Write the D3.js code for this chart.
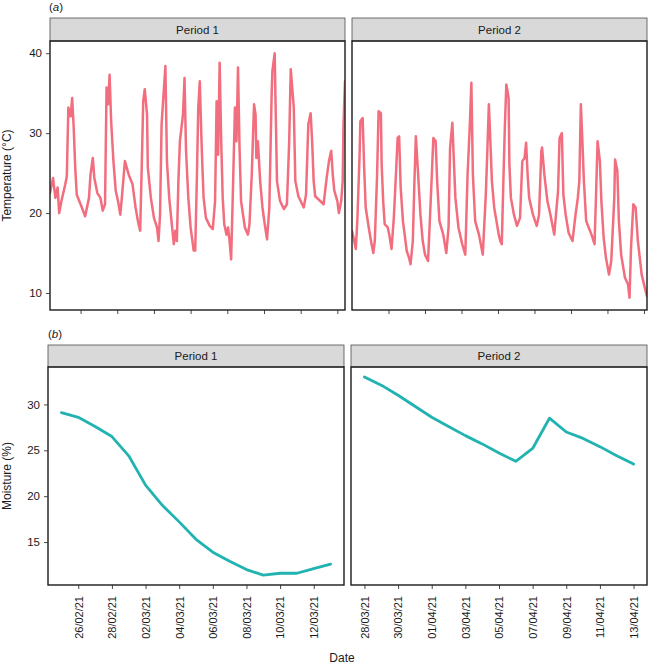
<!DOCTYPE html>
<html>
<head>
<meta charset="utf-8">
<script src="https://cdn.jsdelivr.net/npm/d3@7"></script>
<style>
  body { margin: 0; background: #fff; }
  text { font-family: "Liberation Sans", Arial, sans-serif; }
</style>
</head>
<body>
<div id="chart"></div>
<script>
// ---- data ----
// temperature, period 1: hours after 24/02/21 08:00 and °C
const p1TempStart = new Date(2021, 1, 24, 8);
const p1TempHours = [0,4,7,10,12,15,20,22,24,27,29,31,33,35,40,46,51,53,56,58,62,66,69,72,74,76,78,80,83,86,
  89,92,94,98,103,108,112,115,118,120,122,124,127,128,132,136,140,142,144,146,151,153,156,159,162,164,166,168,170,174,
  176,178,181,184,188,190,192,194,196,198,199,201,204,209,213,216,218,220,222,224,226,228,231,233,235,237,239,242,244,246,
  248,250,255,259,261,264,267,269,270,272,275,278,281,284,287,290,291,294,295,297,301,306,310,313,315,318,319,321,325,332,
  335,338,341,343,345,347,358,362,365,368,370,372,376,378,381,383,384,386];
const p1Temp = [22.5,24.4,21.9,23.2,20.0,21.5,23.6,24.6,33.2,32.1,34.4,30.7,25.7,22.3,21.1,19.6,21.9,24.8,26.9,24.4,
  22.5,21.9,20.3,21.1,35.7,33.6,37.3,31.5,26.5,22.8,21.5,19.8,21.9,26.5,24.8,23.6,20.7,19.0,17.8,25.7,
  34.0,35.5,32.3,25.7,21.9,19.4,18.2,16.5,19.8,31.1,38.4,26.5,21.9,19.0,16.1,17.8,16.5,24.0,29.0,32.3,
  36.9,27.8,21.9,18.2,15.3,15.3,23.6,33.2,36.5,29.8,26.9,21.9,19.4,18.4,18.0,21.5,34.0,27.3,38.8,29.0,
  21.9,18.6,17.3,18.2,16.5,14.2,21.5,33.2,29.0,38.2,28.2,21.5,18.2,17.3,18.6,24.8,33.6,32.3,26.9,29.0,
  24.0,20.7,18.6,16.7,20.7,34.8,37.8,40.0,34.4,24.0,21.5,20.5,21.1,29.0,38.0,34.4,33.2,24.0,22.1,20.7,
  22.3,31.1,32.5,29.0,24.0,22.1,21.1,24.4,26.5,27.8,24.8,22.8,21.5,20.0,21.5,24.0,31.1,36.5];

// temperature, period 2: hours after 26/03/21 00:00 and °C
const p2TempStart = new Date(2021, 2, 26, 0);
const p2TempHours = [0,3,5,7,10,11,14,16,18,22,25,28,30,33,35,38,39,41,43,47,49,52,55,58,60,62,64,67,72,75,
  77,80,82,84,87,90,93,96,100,102,105,107,110,112,115,120,124,127,129,132,134,136,140,145,149,152,155,157,159,162,
  167,172,176,178,180,182,184,187,193,195,197,199,201,203,206,207,209,213,217,221,224,227,229,231,233,238,243,246,249,250,
  253,257,261,266,271,273,276,278,281,285,290,294,297,299,301,303,305,308,315,319,321,323,326,328,331,334,338,341,345,346,
  349,351,354,359,363,365,367,370,373,376,381,385,388];
const p2Temp = [17.75,16.5,15.5,19.0,27.3,31.5,31.9,25.7,20.7,18.2,16.5,15.0,16.5,24.8,32.75,32.5,26.1,21.5,18.6,18.2,
  17.3,15.5,19.4,25.25,29.4,29.6,23.2,19.0,15.25,14.4,13.6,16.5,23.6,29.6,24.8,19.8,16.5,14.8,14.0,18.2,
  24.8,29.4,29.0,24.0,19.0,17.3,15.0,18.2,28.2,31.3,26.5,21.9,18.2,16.1,14.8,24.8,31.1,36.3,24.8,19.0,
  17.3,14.8,22.3,27.75,33.6,29.0,24.0,20.7,17.3,16.5,16.1,23.6,30.7,36.1,34.4,26.1,21.9,19.8,18.4,19.4,
  26.5,26.9,28.8,24.8,21.9,19.8,18.4,19.8,27.75,28.2,24.8,21.5,19.8,17.3,22.75,29.4,30.0,22.3,19.8,17.5,
  16.5,19.8,21.9,24.0,33.6,29.0,24.0,19.0,17.3,16.1,22.3,29.0,26.5,21.5,16.9,14.4,12.3,14.0,21.9,26.7,
  25.25,19.0,14.8,11.9,11.1,9.4,15.7,21.1,20.7,16.5,12.3,10.7,9.6];

// moisture, daily
const p1MoistDates = ["2021-02-25","2021-02-26","2021-02-27","2021-02-28","2021-03-01","2021-03-02","2021-03-03",
  "2021-03-04","2021-03-05","2021-03-06","2021-03-07","2021-03-08","2021-03-09","2021-03-10","2021-03-11","2021-03-12","2021-03-13"];
const p1Moist = [29.1,28.6,27.6,26.5,24.4,21.2,19.0,17.2,15.3,13.9,12.9,12.0,11.4,11.6,11.6,12.1,12.6];
const p2MoistDates = ["2021-03-28","2021-03-29","2021-03-30","2021-03-31","2021-04-01","2021-04-02","2021-04-03",
  "2021-04-04","2021-04-05","2021-04-06","2021-04-07","2021-04-08","2021-04-09","2021-04-10","2021-04-11","2021-04-12","2021-04-13"];
const p2Moist = [33.0,32.1,31.0,29.8,28.6,27.6,26.6,25.7,24.7,23.8,25.2,28.5,27.0,26.3,25.4,24.4,23.5];

// x tick dates
const p1Ticks = ["2021-02-26","2021-02-28","2021-03-02","2021-03-04","2021-03-06","2021-03-08","2021-03-10","2021-03-12"];
const p2Ticks = ["2021-03-28","2021-03-30","2021-04-01","2021-04-03","2021-04-05","2021-04-07","2021-04-09","2021-04-11","2021-04-13"];
const tempTicks = [10, 20, 30, 40];
const moistTicks = [15, 20, 25, 30];
const panelNames = ["Period 1", "Period 2"];

// ---- setup ----
const width = 651;
const height = 665;
const tempColor = "#f26e7e";
const moistColor = "#20b3b1";
const svg = d3.select("#chart")
    .append("svg")
    .attr("width", width)
    .attr("height", height);

const parseDay = d3.timeParse("%Y-%m-%d");
const fmt = d3.timeFormat("%d/%m/%y");

function hoursToDates(start, hours){
    return hours.map(h => d3.timeHour.offset(start, h));
}

// pad a [min,max] extent like ggplot does (5% each side)
function expand(ext, f){
    let d = (ext[1] - ext[0]) * f;
    return [+ext[0] - d, +ext[1] + d];
}

const tempSeries = [
    { t: hoursToDates(p1TempStart, p1TempHours), v: p1Temp, ticks: p1Ticks.map(parseDay) },
    { t: hoursToDates(p2TempStart, p2TempHours), v: p2Temp, ticks: p2Ticks.map(parseDay) }
];
const moistSeries = [
    { t: p1MoistDates.map(parseDay), v: p1Moist, ticks: p1Ticks.map(parseDay) },
    { t: p2MoistDates.map(parseDay), v: p2Moist, ticks: p2Ticks.map(parseDay) }
];

// layout for the two rows
const topRow = { stripTop: 18, top: 41, bottom: 310, panels: [[50, 345], [352, 647]] };
const botRow = { stripTop: 345, top: 367, bottom: 585, panels: [[48, 344], [351, 647]] };

function drawStrip(row, i){
    let [x0, x1] = row.panels[i];
    svg.append("rect")
        .attr("x", x0).attr("y", row.stripTop)
        .attr("width", x1 - x0).attr("height", row.top - row.stripTop)
        .attr("fill", "#d9d9d9").attr("stroke", "#4d4d4d").attr("stroke-width", 0.8);
    svg.append("text")
        .attr("x", (x0 + x1) / 2).attr("y", (row.stripTop + row.top) / 2)
        .attr("dy", "0.35em").attr("text-anchor", "middle")
        .attr("font-size", 11.5).attr("fill", "#1a1a1a")
        .text(panelNames[i]);
}

function drawFrame(row, i){
    let [x0, x1] = row.panels[i];
    svg.append("rect")
        .attr("x", x0).attr("y", row.top)
        .attr("width", x1 - x0).attr("height", row.bottom - row.top)
        .attr("fill", "none").attr("stroke", "#1a1a1a").attr("stroke-width", 1.4);
}

function styleAxis(g){
    g.select(".domain").remove();
    g.selectAll(".tick line").attr("stroke", "#333").attr("stroke-width", 0.9);
    g.selectAll(".tick text").attr("fill", "#1a1a1a").attr("font-size", 11.5)
        .attr("font-family", "Liberation Sans, Arial, sans-serif");
}

function drawRow(row, series, yDomain, yTicks, xExpand, color, lw, showDates, id){
    let y = d3.scaleLinear().domain(yDomain).range([row.bottom, row.top]);
    series.forEach(function(s, i){
        let [x0, x1] = row.panels[i];
        let x = d3.scaleTime()
            .domain(expand(d3.extent(s.t), xExpand).map(d => new Date(d)))
            .range([x0, x1]);
        drawStrip(row, i);

        svg.append("clipPath").attr("id", `${id}${i}`)
            .append("rect").attr("x", x0).attr("y", row.top)
            .attr("width", x1 - x0).attr("height", row.bottom - row.top);

        let line = d3.line()
            .x((d, k) => x(s.t[k]))
            .y(d => y(d));
        svg.append("path")
            .datum(s.v)
            .attr("clip-path", `url(#${id}${i})`)
            .attr("fill", "none")
            .attr("stroke", color)
            .attr("stroke-width", lw)
            .attr("stroke-linejoin", "round")
            .attr("stroke-linecap", "round")
            .attr("d", line);

        let dom = x.domain();
        let ticks = s.ticks.filter(d => d >= dom[0] && d <= dom[1]);
        let xa = svg.append("g")
            .attr("transform", `translate(0, ${row.bottom})`)
            .call(d3.axisBottom(x).tickValues(ticks).tickSize(4)
                .tickFormat(showDates ? fmt : ""));
        styleAxis(xa);
        if(showDates){
            xa.selectAll(".tick text")
                .attr("font-size", 11)
                .attr("transform", "rotate(-90)")
                .attr("x", -11).attr("y", 0).attr("dy", "0.35em")
                .attr("text-anchor", "end");
        }
        drawFrame(row, i);
    });
    let ya = svg.append("g")
        .attr("transform", `translate(${row.panels[0][0]}, 0)`)
        .call(d3.axisLeft(y).tickValues(yTicks).tickSize(4).tickPadding(4));
    styleAxis(ya);
}

// (a) temperature
let tAll = p1Temp.concat(p2Temp);
drawRow(topRow, tempSeries, expand(d3.extent(tAll), 0.05), tempTicks, 0, tempColor, 2.5, false, "clipT");
// (b) moisture
let mAll = p1Moist.concat(p2Moist);
drawRow(botRow, moistSeries, expand(d3.extent(mAll), 0.05), moistTicks, 0.05, moistColor, 2.8, true, "clipM");

// panel letters
function panelLetter(x, y, letter){
    let t = svg.append("text").attr("x", x).attr("y", y)
        .attr("font-size", 11.5).attr("fill", "#1a1a1a");
    t.append("tspan").text("(");
    t.append("tspan").attr("font-style", "italic").text(letter);
    t.append("tspan").text(")");
}
panelLetter(49, 11, "a");
panelLetter(48, 338, "b");

// axis titles
svg.append("text")
    .attr("transform", `translate(11, ${(topRow.top + topRow.bottom) / 2}) rotate(-90)`)
    .attr("text-anchor", "middle").attr("font-size", 12).attr("fill", "#1a1a1a")
    .text("Temperature (°C)");
svg.append("text")
    .attr("transform", `translate(11, ${(botRow.top + botRow.bottom) / 2}) rotate(-90)`)
    .attr("text-anchor", "middle").attr("font-size", 12).attr("fill", "#1a1a1a")
    .text("Moisture (%)");
svg.append("text")
    .attr("x", 342).attr("y", 662)
    .attr("text-anchor", "middle").attr("font-size", 12).attr("fill", "#1a1a1a")
    .text("Date");
</script>
</body>
</html>
